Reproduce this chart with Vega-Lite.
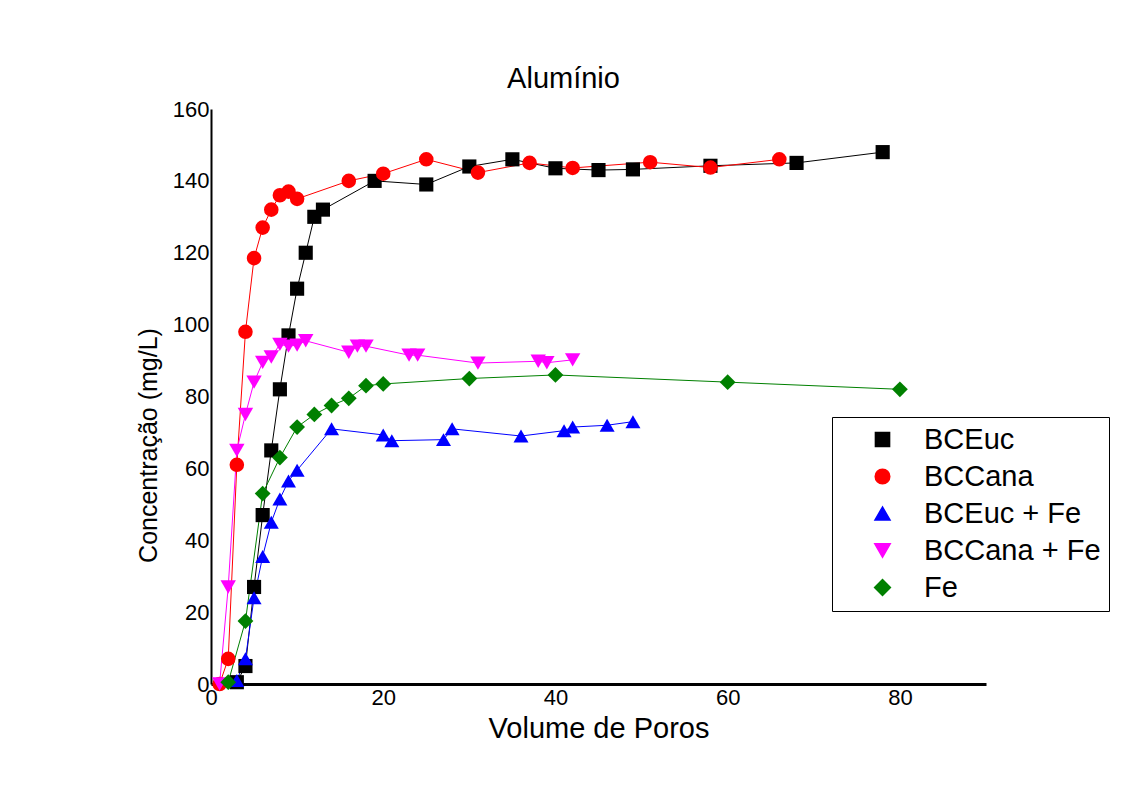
{
  "$schema": "https://vega.github.io/schema/vega-lite/v6.json",
  "autosize": {"type": "none"},
  "padding": {"left": 211, "top": 109, "right": 146, "bottom": 128},
  "width": 775,
  "height": 575,
  "background": "white",
  "title": {"text": "Alumínio", "fontSize": 29, "font": "Liberation Sans", "fontWeight": "normal", "color": "black", "frame": "group", "anchor": "middle", "dx": -35, "offset": 4},
  "config": {
    "view": {"stroke": null},
    "axis": {"grid": false, "ticks": false, "domainColor": "black", "labelColor": "black", "labelFont": "Liberation Sans", "labelFontSize": 22, "labelFlush": false, "labelOverlap": false, "titleFont": "Liberation Sans", "titleFontWeight": "normal", "titleColor": "black"}
  },
  "data": {"values": [
    {"s": "BCEuc", "x": 3, "y": 0.5}, {"s": "BCEuc", "x": 4, "y": 5}, {"s": "BCEuc", "x": 5, "y": 27}, {"s": "BCEuc", "x": 6, "y": 47}, {"s": "BCEuc", "x": 7, "y": 65}, {"s": "BCEuc", "x": 8, "y": 82}, {"s": "BCEuc", "x": 9, "y": 97}, {"s": "BCEuc", "x": 10, "y": 110}, {"s": "BCEuc", "x": 11, "y": 120}, {"s": "BCEuc", "x": 12, "y": 130}, {"s": "BCEuc", "x": 13, "y": 132}, {"s": "BCEuc", "x": 19, "y": 140}, {"s": "BCEuc", "x": 25, "y": 139}, {"s": "BCEuc", "x": 30, "y": 144}, {"s": "BCEuc", "x": 35, "y": 146}, {"s": "BCEuc", "x": 40, "y": 143.5}, {"s": "BCEuc", "x": 45, "y": 143}, {"s": "BCEuc", "x": 49, "y": 143.2}, {"s": "BCEuc", "x": 58, "y": 144.2}, {"s": "BCEuc", "x": 68, "y": 145}, {"s": "BCEuc", "x": 78, "y": 148},
    {"s": "BCCana", "x": 1, "y": 0}, {"s": "BCCana", "x": 2, "y": 7}, {"s": "BCCana", "x": 3, "y": 61}, {"s": "BCCana", "x": 4, "y": 98}, {"s": "BCCana", "x": 5, "y": 118.5}, {"s": "BCCana", "x": 6, "y": 127}, {"s": "BCCana", "x": 7, "y": 132}, {"s": "BCCana", "x": 8, "y": 136}, {"s": "BCCana", "x": 9, "y": 137}, {"s": "BCCana", "x": 10, "y": 135}, {"s": "BCCana", "x": 16, "y": 140}, {"s": "BCCana", "x": 20, "y": 142}, {"s": "BCCana", "x": 25, "y": 146}, {"s": "BCCana", "x": 31, "y": 142.3}, {"s": "BCCana", "x": 37, "y": 145}, {"s": "BCCana", "x": 42, "y": 143.6}, {"s": "BCCana", "x": 51, "y": 145.2}, {"s": "BCCana", "x": 58, "y": 143.7}, {"s": "BCCana", "x": 66, "y": 146},
    {"s": "BCEuc + Fe", "x": 3, "y": 1}, {"s": "BCEuc + Fe", "x": 4, "y": 7}, {"s": "BCEuc + Fe", "x": 5, "y": 24}, {"s": "BCEuc + Fe", "x": 6, "y": 35.5}, {"s": "BCEuc + Fe", "x": 7, "y": 45}, {"s": "BCEuc + Fe", "x": 8, "y": 51.5}, {"s": "BCEuc + Fe", "x": 9, "y": 56.5}, {"s": "BCEuc + Fe", "x": 10, "y": 59.5}, {"s": "BCEuc + Fe", "x": 14, "y": 71}, {"s": "BCEuc + Fe", "x": 20, "y": 69.3}, {"s": "BCEuc + Fe", "x": 21, "y": 67.7}, {"s": "BCEuc + Fe", "x": 27, "y": 68}, {"s": "BCEuc + Fe", "x": 28, "y": 71}, {"s": "BCEuc + Fe", "x": 36, "y": 69}, {"s": "BCEuc + Fe", "x": 41, "y": 70.5}, {"s": "BCEuc + Fe", "x": 42, "y": 71.5}, {"s": "BCEuc + Fe", "x": 46, "y": 72}, {"s": "BCEuc + Fe", "x": 49, "y": 73},
    {"s": "BCCana + Fe", "x": 1, "y": 0}, {"s": "BCCana + Fe", "x": 2, "y": 27}, {"s": "BCCana + Fe", "x": 3, "y": 65}, {"s": "BCCana + Fe", "x": 4, "y": 75}, {"s": "BCCana + Fe", "x": 5, "y": 84}, {"s": "BCCana + Fe", "x": 6, "y": 89.5}, {"s": "BCCana + Fe", "x": 7, "y": 91}, {"s": "BCCana + Fe", "x": 8, "y": 94.5}, {"s": "BCCana + Fe", "x": 9, "y": 94}, {"s": "BCCana + Fe", "x": 10, "y": 94.3}, {"s": "BCCana + Fe", "x": 11, "y": 95.5}, {"s": "BCCana + Fe", "x": 16, "y": 92.3}, {"s": "BCCana + Fe", "x": 17, "y": 94}, {"s": "BCCana + Fe", "x": 18, "y": 94}, {"s": "BCCana + Fe", "x": 23, "y": 91.5}, {"s": "BCCana + Fe", "x": 24, "y": 91.5}, {"s": "BCCana + Fe", "x": 31, "y": 89.3}, {"s": "BCCana + Fe", "x": 38, "y": 89.8}, {"s": "BCCana + Fe", "x": 39, "y": 89.4}, {"s": "BCCana + Fe", "x": 42, "y": 90.2},
    {"s": "Fe", "x": 2, "y": 0.5}, {"s": "Fe", "x": 4, "y": 17.5}, {"s": "Fe", "x": 6, "y": 53}, {"s": "Fe", "x": 8, "y": 63}, {"s": "Fe", "x": 10, "y": 71.5}, {"s": "Fe", "x": 12, "y": 75}, {"s": "Fe", "x": 14, "y": 77.5}, {"s": "Fe", "x": 16, "y": 79.5}, {"s": "Fe", "x": 18, "y": 83}, {"s": "Fe", "x": 20, "y": 83.5}, {"s": "Fe", "x": 30, "y": 85}, {"s": "Fe", "x": 40, "y": 86}, {"s": "Fe", "x": 60, "y": 84}, {"s": "Fe", "x": 80, "y": 82}
  ]},
  "encoding": {
    "x": {"field": "x", "type": "quantitative", "scale": {"domain": [0, 90], "nice": false, "zero": false},
      "axis": {"values": [0, 20, 40, 60, 80], "domainWidth": 3, "labelPadding": 3, "title": "Volume de Poros", "titleFontSize": 29, "titlePadding": 6}},
    "y": {"field": "y", "type": "quantitative", "scale": {"domain": [0, 160], "nice": false},
      "axis": {"values": [0, 20, 40, 60, 80, 100, 120, 140, 160], "domainWidth": 2, "labelPadding": 2, "title": "Concentração (mg/L)", "titleFontSize": 25, "titlePadding": 11, "titleY": 336}}
  },
  "layer": [
    {
      "mark": {"type": "line", "strokeWidth": 1},
      "encoding": {
        "color": {"field": "s", "type": "nominal", "scale": {"domain": ["BCEuc", "BCCana", "BCEuc + Fe", "BCCana + Fe", "Fe"], "range": ["#000000", "#ff0000", "#0000ff", "#ff00ff", "#008000"]}},
        "order": {"field": "x", "type": "quantitative"}
      }
    },
    {
      "mark": {"type": "point", "filled": true, "opacity": 1},
      "encoding": {
        "color": {"field": "s", "type": "nominal", "scale": {"domain": ["BCEuc", "BCCana", "BCEuc + Fe", "BCCana + Fe", "Fe"], "range": ["#000000", "#ff0000", "#0000ff", "#ff00ff", "#008000"]},
          "legend": {"orient": "none", "legendX": 621, "legendY": 308, "title": null, "labelFontSize": 29, "labelFont": "Liberation Sans", "labelColor": "black", "labelLimit": 400, "labelOffset": 27, "strokeColor": "black", "padding": 8, "symbolOffset": 28, "rowPadding": 7}},
        "shape": {"field": "s", "type": "nominal", "scale": {"domain": ["BCEuc", "BCCana", "BCEuc + Fe", "BCCana + Fe", "Fe"], "range": ["square", "circle", "triangle-up", "triangle-down", "diamond"]},
          "legend": {"orient": "none", "legendX": 621, "legendY": 308, "title": null, "labelFontSize": 29, "labelFont": "Liberation Sans", "labelColor": "black", "labelLimit": 400, "labelOffset": 27, "strokeColor": "black", "padding": 8, "symbolOffset": 28, "rowPadding": 7}},
        "size": {"field": "s", "type": "nominal", "scale": {"domain": ["BCEuc", "BCCana", "BCEuc + Fe", "BCCana + Fe", "Fe"], "range": [200, 250, 250, 250, 270]}, "legend": null}
      }
    }
  ]
}
